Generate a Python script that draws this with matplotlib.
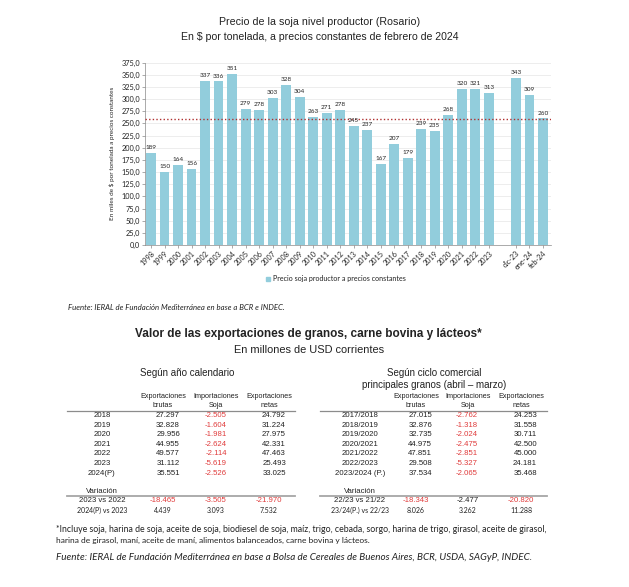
import numpy as np
import matplotlib
matplotlib.use("Agg")
import matplotlib.pyplot as plt

# precio de la soja, miles de $ por tonelada (constantes feb-2024)
years = [str(y) for y in range(1998, 2024)]
months = ["dic-23", "ene-24", "feb-24"]
year_values = [189, 150, 164, 156, 337, 336, 351, 279, 278, 303, 328, 304, 263,
               271, 278, 245, 237, 167, 207, 179, 239, 235, 268, 320, 321, 313]
month_values = [343, 309, 260]
avg_line = 258

# tabla: segun año calendario
cal_rows = ["2018", "2019", "2020", "2021", "2022", "2023", "2024(P)"]
cal_brutas = ["27.297", "32.828", "29.956", "44.955", "49.577", "31.112", "35.551"]
cal_import = ["-2.505", "-1.604", "-1.981", "-2.624", "-2.114", "-5.619", "-2.526"]
cal_netas = ["24.792", "31.224", "27.975", "42.331", "47.463", "25.493", "33.025"]
cal_var_rows = ["2023 vs 2022", "2024(P) vs 2023"]
cal_var = [["-18.465", "-3.505", "-21.970"], ["4.439", "3.093", "7.532"]]
cal_var_red = [[True, True, True], [False, False, False]]

# tabla: segun ciclo comercial
cic_rows = ["2017/2018", "2018/2019", "2019/2020", "2020/2021", "2021/2022",
            "2022/2023", "2023/2024 (P.)"]
cic_brutas = ["27.015", "32.876", "32.735", "44.975", "47.851", "29.508", "37.534"]
cic_import = ["-2.762", "-1.318", "-2.024", "-2.475", "-2.851", "-5.327", "-2.065"]
cic_netas = ["24.253", "31.558", "30.711", "42.500", "45.000", "24.181", "35.468"]
cic_var_rows = ["22/23 vs 21/22", "23/24(P.) vs 22/23"]
cic_var = [["-18.343", "-2.477", "-20.820"], ["8.026", "3.262", "11.288"]]
cic_var_red = [[True, False, True], [False, False, False]]

W, H = 629, 587
BAR = "#92CDDC"
RED = "#E03C3C"
TXT = "#222222"
chart_font = "Lato"
table_font = "Liberation Sans"

fig = plt.figure(figsize=(W / 100, H / 100), dpi=100)
fig.patch.set_facecolor("white")


def px(x, y):
    return x / W, 1 - y / H


def txt(x, y, s, **kw):
    kw.setdefault("family", table_font)
    kw.setdefault("color", TXT)
    kw.setdefault("va", "center")
    fig.text(*px(x, y), s, **kw)


# ---- grafico de barras ----
ax = fig.add_axes([145 / W, 1 - 245 / H, (551 - 145) / W, (245 - 62.5) / H])
labels = years + [""] + months
values = year_values + [np.nan] + month_values
xpos = np.arange(len(labels))
bars = ax.bar(xpos, values, width=0.72, color=BAR, zorder=2)
for x, v in zip(xpos, values):
    if not np.isnan(v):
        ax.text(x, v + 6, f"{v:.0f}", ha="center", va="bottom", fontsize=4.6,
                family=chart_font, color=TXT, zorder=4)
ax.axhline(avg_line, color="#B03030", lw=1.0, ls=(0, (1, 1.6)), zorder=3)
ax.set_xlim(-0.45, len(labels) - 0.4)
ax.set_ylim(0, 375)
ax.set_yticks(np.arange(0, 376, 25))
ax.set_yticklabels([f"{t:.1f}".replace(".", ",") for t in np.arange(0, 376, 25)],
                   fontsize=5.3, family=chart_font, color=TXT)
ticks = [i for i, l in enumerate(labels) if l]
ax.set_xticks(ticks)
ax.set_xticklabels([labels[i] for i in ticks], rotation=45, ha="right",
                   rotation_mode="anchor", fontsize=5.2, family=chart_font, color=TXT)
ax.tick_params(axis="both", length=2, width=0.5, color="#888888", pad=1.5)
ax.grid(axis="y", color="#E6E6E6", lw=0.5, zorder=0)
for s in ["top", "right"]:
    ax.spines[s].set_visible(False)
ax.spines["left"].set_color("#888888")
ax.spines["bottom"].set_color("#888888")
ax.spines["left"].set_linewidth(0.5)
ax.spines["bottom"].set_linewidth(0.5)
ax.set_ylabel("En miles de $ por tonelada a precios constantes", fontsize=4.6,
              family=chart_font, color=TXT, labelpad=5)

# leyenda
fig.patches.append(plt.Rectangle(px(266, 281), 4 / W, 4 / H, color=BAR,
                                 transform=fig.transFigure, figure=fig))
txt(273, 279, "Precio soja productor a precios constantes", family=chart_font,
    fontsize=5.1)

# titulos
txt(320, 22, "Precio de la soja nivel productor (Rosario)", ha="center", fontsize=7.7)
txt(320, 37, "En $ por tonelada, a precios constantes de febrero de 2024",
    ha="center", fontsize=7.6)
txt(68, 308, "Fuente: IERAL de Fundación Mediterránea en base a BCR e INDEC.",
    family=chart_font, style="italic", fontsize=5.6)

txt(308, 334, "Valor de las exportaciones de granos, carne bovina y lácteos*",
    ha="center", fontsize=8.5, weight="bold")
txt(309, 350, "En millones de USD corrientes", ha="center", fontsize=7.9)


# ---- tablas ----
def table(title_lines, title_x, label_x, col_centers, col_rights, line_x,
          rows, brutas, imp, netas, var_rows, var_vals, var_red):
    for i, t in enumerate(title_lines):
        txt(title_x, 373 + i * 12, t, ha="center", fontsize=7.0)
    heads = [("Exportaciones", "brutas"), ("Importaciones", "Soja"),
             ("Exportaciones", "netas")]
    for cx, (h1, h2) in zip(col_centers, heads):
        txt(cx, 396, h1, ha="center", fontsize=5.2)
        txt(cx, 405.5, h2, ha="center", fontsize=5.2)
    fig.add_artist(plt.Line2D([px(line_x[0], 0)[0], px(line_x[1], 0)[0]],
                              [px(0, 411)[1]] * 2, color="#8C8C8C", lw=0.9))
    for r, (lab, b, m, n) in enumerate(zip(rows, brutas, imp, netas)):
        y = 415.5 + r * 9.6
        txt(label_x, y, lab, ha="center", fontsize=5.6)
        for xr, v in zip(col_rights, [b, m, n]):
            txt(xr, y, v, ha="right", fontsize=5.6,
                color=RED if v.startswith("-") else TXT)
    txt(label_x, 491.5, "Variación", ha="center", fontsize=5.6)
    fig.add_artist(plt.Line2D([px(line_x[0], 0)[0], px(line_x[1], 0)[0]],
                              [px(0, 496)[1]] * 2, color="#A6A6A6", lw=1.3))
    for r, lab in enumerate(var_rows):
        y = 501 + r * 9.6
        txt(label_x, y, lab, ha="center", fontsize=5.6 if r == 0 else 5.0,
            family=table_font if r == 0 else chart_font)
        for cx, v, red in zip(col_centers, var_vals[r], var_red[r]):
            txt(cx, y, v, ha="center", fontsize=5.6 if r == 0 else 5.0,
                family=table_font if r == 0 else chart_font,
                color=RED if red else TXT)


table(["Según año calendario"], 187, 102, [163, 216, 269], [180, 227, 286],
      (67, 295), cal_rows, cal_brutas, cal_import, cal_netas,
      cal_var_rows, cal_var, cal_var_red)
table(["Según ciclo comercial", "principales granos (abril – marzo)"], 434, 360,
      [416, 468, 521], [432, 478, 537], (320, 547), cic_rows, cic_brutas,
      cic_import, cic_netas, cic_var_rows, cic_var, cic_var_red)

# notas al pie
txt(56, 529, "*Incluye soja, harina de soja, aceite de soja, biodiesel de soja, maíz, trigo, "
    "cebada, sorgo, harina de trigo, girasol, aceite de girasol,",
    family=chart_font, fontsize=6.3)
txt(56, 540, "harina de girasol, maní, aceite de maní, alimentos balanceados, carne bovina y lácteos.",
    family=chart_font, fontsize=6.0)
txt(56, 557, "Fuente: IERAL de Fundación Mediterránea en base a Bolsa de Cereales de "
    "Buenos Aires, BCR, USDA, SAGyP, INDEC.", family=chart_font, style="italic",
    fontsize=7.1)

fig.savefig("out.png", dpi=100, facecolor="white")
